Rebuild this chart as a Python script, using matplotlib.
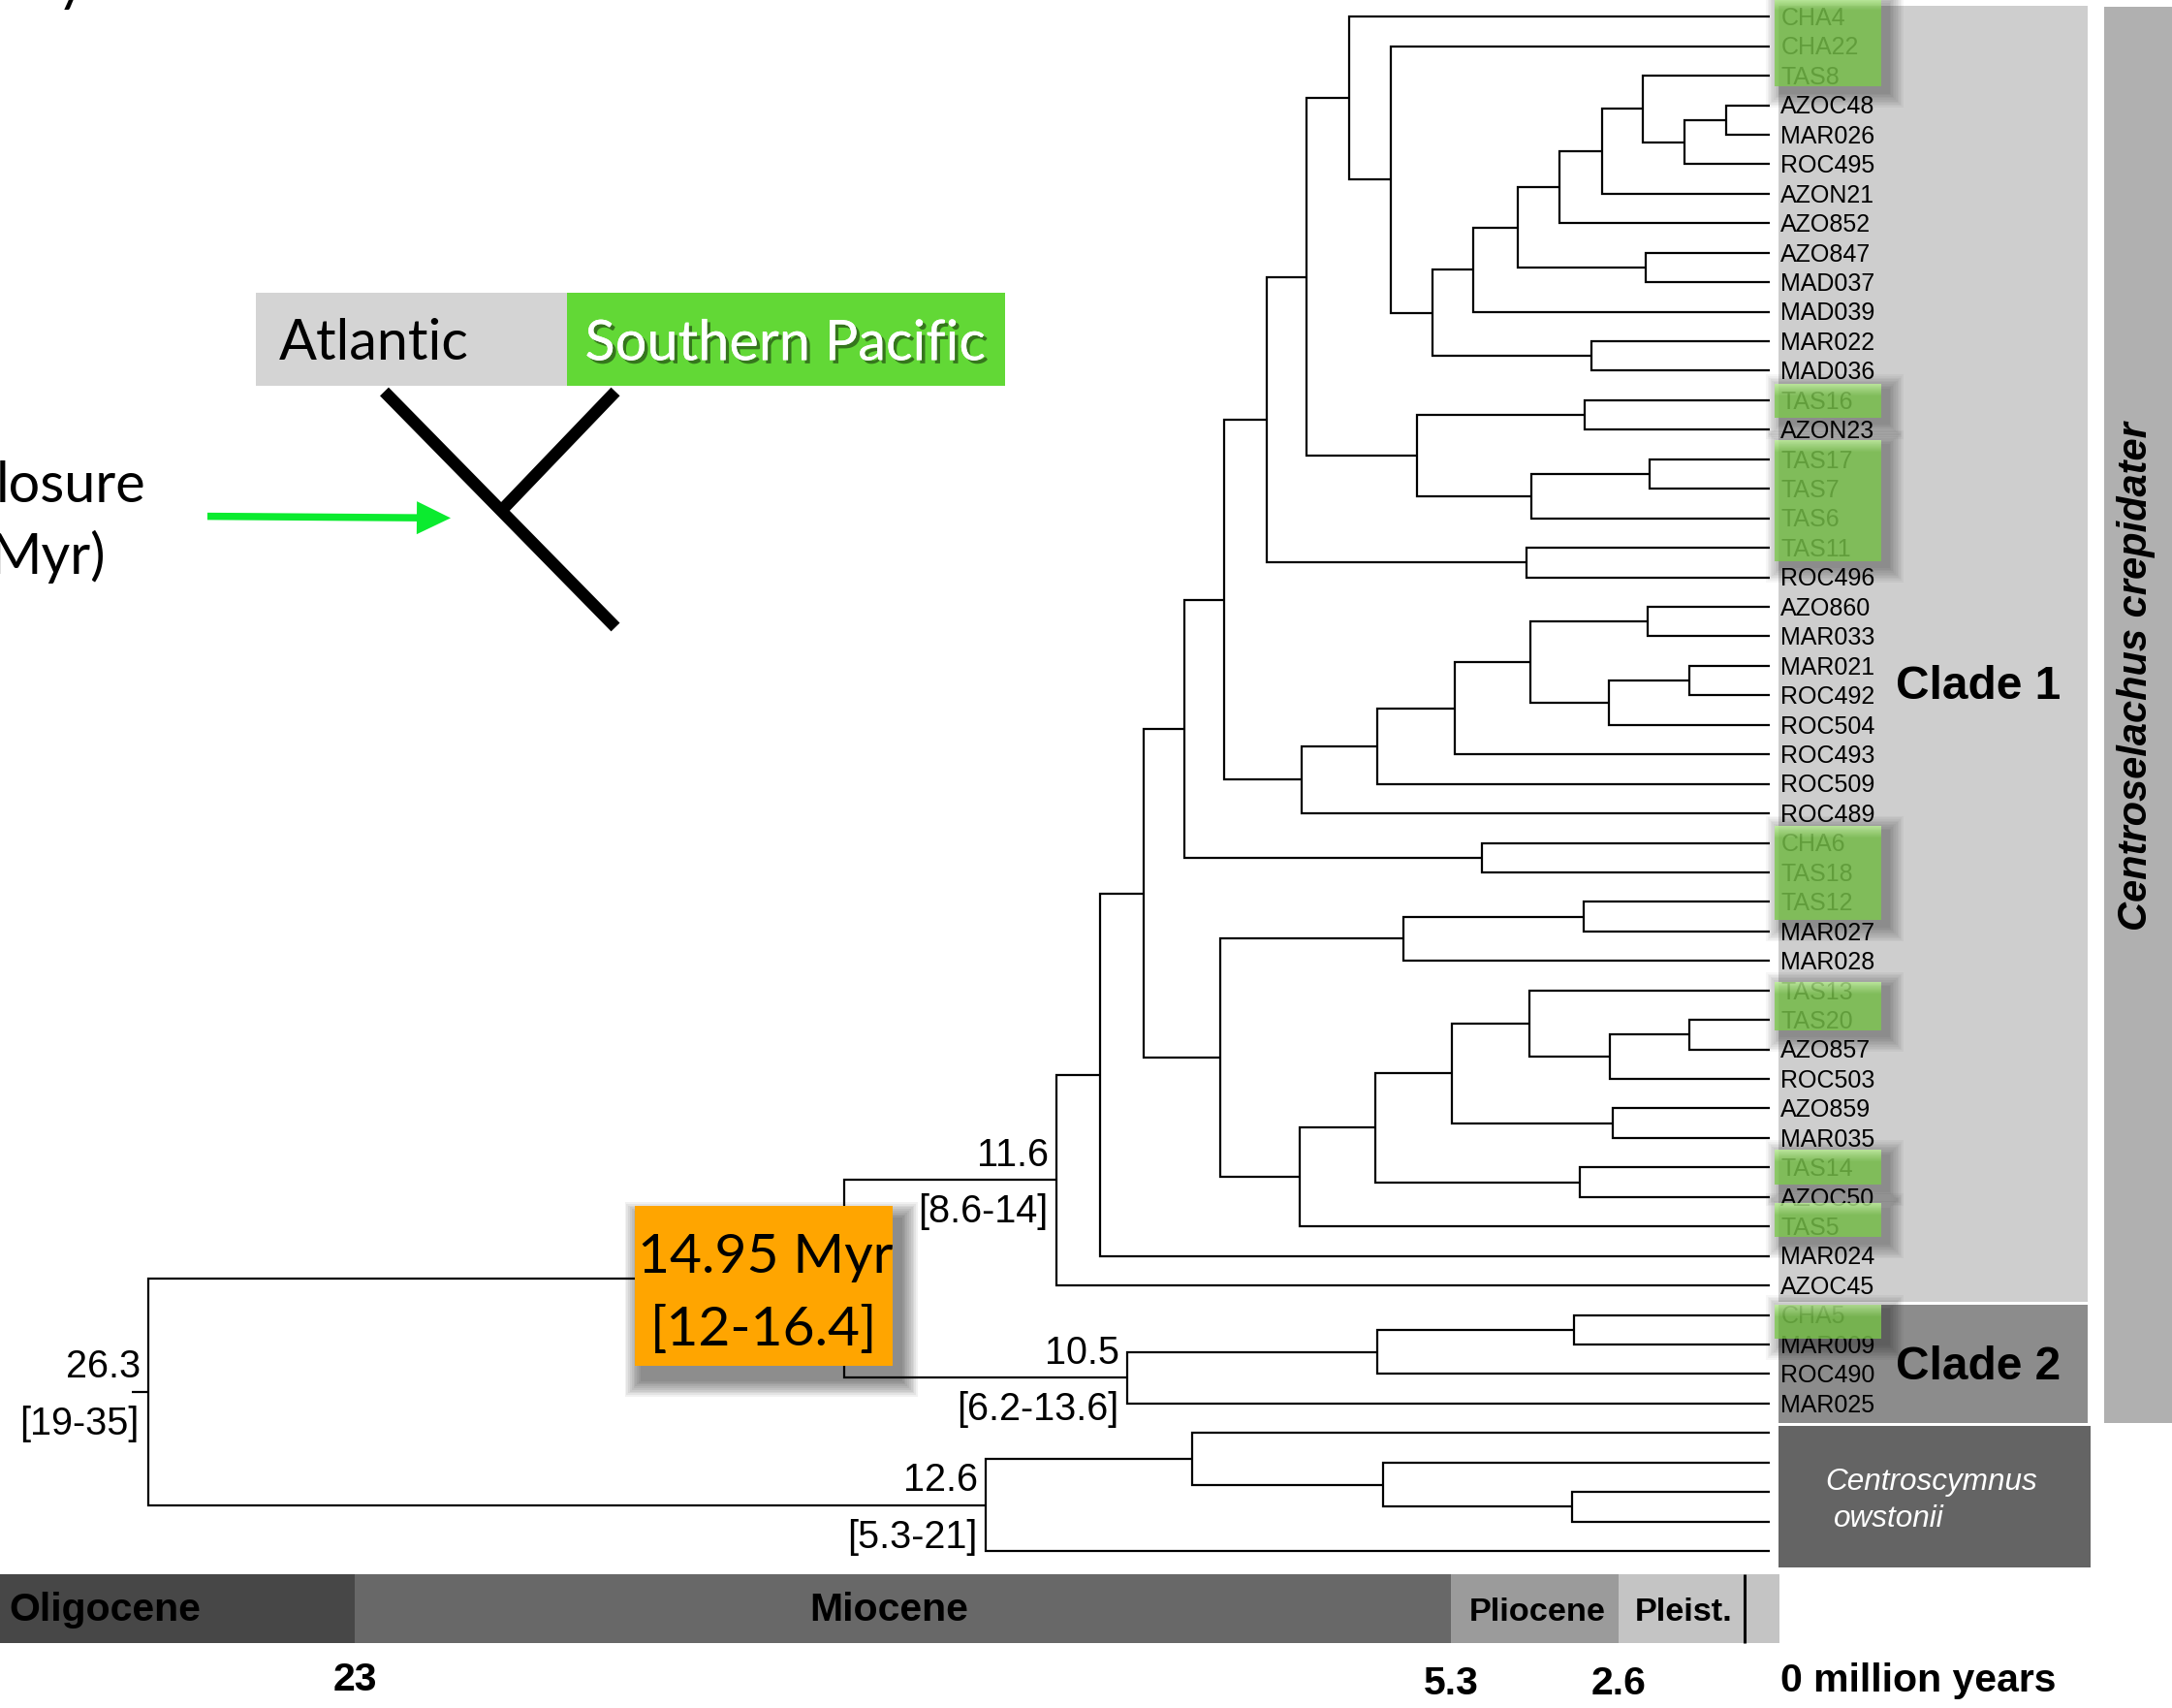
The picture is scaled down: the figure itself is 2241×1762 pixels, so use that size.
import matplotlib
matplotlib.use("Agg")
import matplotlib.pyplot as plt
import matplotlib.transforms as mtrans
import matplotlib.patheffects as pe
from matplotlib.patches import Rectangle, FancyArrow
from matplotlib.collections import LineCollection
import numpy as np

# ------------------------------------------------------------------ data
# time-calibrated tree: (node age in Myr, child, child); tips are sample names
CLADE1_A = (6.95, "CHA4", (6.27, "CHA22", (5.61, (4.94, (4.23, (3.55, (2.87, (2.21, "TAS8",
            (1.54, (0.86, "AZOC48", "MAR026"), "ROC495")), "AZON21"), "AZO852"),
            (2.16, "AZO847", "MAD037")), "MAD039"), (3.04, "MAR022", "MAD036"))))
CLADE1_B = (5.86, (3.14, "TAS16", "AZON23"), (4.01, (2.09, "TAS17", "TAS7"), "TAS6"))
CLADE1_C = (7.71, (6.49, (5.24, (4.02, (2.13, "AZO860", "MAR033"),
            (2.76, (1.46, "MAR021", "ROC492"), "ROC504")), "ROC493"), "ROC509"), "ROC489")
CLADE1_D = (9.03, (6.07, (3.16, "TAS12", "MAR027"), "MAR028"),
            (7.74, (6.53, (5.29, (4.03, "TAS13", (2.74, (1.46, "TAS20", "AZO857"), "ROC503")),
                               (2.69, "AZO859", "MAR035")), (3.22, "TAS14", "AZOC50")), "TAS5"))
CLADE1 = (11.67, (10.97, (10.27, (9.61, (8.96, (8.28, (7.64, CLADE1_A, CLADE1_B),
          (4.08, "TAS11", "ROC496")), CLADE1_C), (4.81, "CHA6", "TAS18")), CLADE1_D),
          "MAR024"), "AZOC45")
CLADE2 = (10.53, (6.50, (3.32, "CHA5", "MAR009"), "ROC490"), "MAR025")
OWSTONII = (12.81, (9.48, "ow1", (6.40, "ow2", (3.35, "ow3", "ow4"))), "ow5")
TREE = (26.34, (15.10, CLADE1, CLADE2), OWSTONII)
TIP_AGE = 0.15
ROOT_STEM_AGE = 26.61

# node age -> (mean label, HPD label)
NODE_LABELS = {26.34: ("26.3", "[19-35]"), 11.67: ("11.6", "[8.6-14]"),
               10.53: ("10.5", "[6.2-13.6]"), 12.81: ("12.6", "[5.3-21]")}
CALIB_TEXT = ["14.95 Myr", "[12-16.4]"]

# Southern Pacific samples (highlighted); groups of consecutive highlighted tips
SP_GROUPS = [("CHA4", "TAS8"), ("TAS16", "TAS16"), ("TAS17", "TAS11"), ("CHA6", "TAS12"),
             ("TAS13", "TAS20"), ("TAS14", "TAS14"), ("TAS5", "TAS5"), ("CHA5", "CHA5")]
SP_PAD_TOP = [19, 16.5, 20.3, 17.8, 8.7, 18, 23.8, 10.6]
SP_PAD_BOT = [11, 17.6, 13.5, 18.9, 10.6, 18, 11.2, 24]

EPOCHS = ["Oligocene", "Miocene", "Pliocene", "Pleist."]
EPOCH_OLD = [28.8, 23.0, 5.3, 2.6]
EPOCH_YOUNG = [23.0, 5.3, 2.6, 0.0]
EPOCH_COLORS = ["#474747", "#686868", "#9b9b9b", "#c4c4c4"]
HOLOCENE_MARK = 0.56
TIME_TICKS = [23, 5.3, 2.6]
TIME_TICK_LABELS = ["23", "5.3", "2.6"]

# ------------------------------------------------------------------ layout
W, H, DPI = 2241, 1762, 100
X0, SX = 1836.0, 63.9          # pixel of age 0, pixels per Myr
Y0, DY = 17.2, 30.44           # pixel of first tip, pixels per tip

fig = plt.figure(figsize=(W / DPI, H / DPI), dpi=DPI)
fig.patch.set_facecolor("white")
ax = fig.add_axes([0, 0, 1, 1])
ax.set_xlim(X0 / SX, (X0 - W) / SX)
ax.set_ylim((H - Y0) / DY, -Y0 / DY)
ax.axis("off")

PX = mtrans.Affine2D().scale(1, -1).translate(0, H)      # top-left pixel coordinates
XPX = mtrans.blended_transform_factory(ax.transData, PX)  # x = age, y = pixel

ARIAL = "Liberation Sans"
GILL = "Lato"

# ------------------------------------------------------------------ tree
tips = []
def collect(n):
    if isinstance(n, str):
        tips.append(n)
    else:
        for c in n[1:]:
            collect(c)
collect(TREE)
tip_y = {n: i for i, n in enumerate(tips)}

segs = []
node_pos = {}
def layout(n):
    if isinstance(n, str):
        return tip_y[n], TIP_AGE
    age = n[0]
    ya, aa = layout(n[1])
    yb, ab = layout(n[2])
    segs.append([(aa, ya), (age, ya), (age, yb), (ab, yb)])
    y = (ya + yb) / 2
    node_pos[age] = y
    return y, age
root_y, root_age = layout(TREE)
segs.append([(ROOT_STEM_AGE, root_y), (root_age, root_y)])
lc = LineCollection(segs, colors="black", linewidths=1.6, zorder=2,
                    capstyle="butt", joinstyle="miter")
ax.add_collection(lc)

# ------------------------------------------------------------------ right-hand panels
def prect(x0, y0, x1, y1, color, z, alpha=1.0, tr=PX):
    ax.add_patch(Rectangle((x0, y0), x1 - x0, y1 - y0, transform=tr, facecolor=color,
                           edgecolor="none", lw=0, zorder=z, alpha=alpha))

def shadow(x0, y0, x1, y1, dx, dy, spread, alpha, z, n=10):
    for k in range(n):
        e = spread * (k + 1) / n
        prect(x0 + dx - e, y0 + dy - e, x1 + dx + e, y1 + dy + e, "black", z, alpha / n)

def ypx(name):
    return Y0 + tip_y[name] * DY

prect(1835, 6, 2154, ypx("AZOC45") + 17, "#cecece", 0)
prect(1835, ypx("CHA5") - 10.6, 2154, ypx("MAR025") + 19.8, "#8c8c8c", 0)
prect(1835, ypx("ow1") - 7.3, 2157, ypx("ow5") + 16.6, "#646464", 0)
prect(2171, 7, W, 1468.3, "#b0b0b0", 0)

ax.text(2204, 698, "Centroselachus crepidater", transform=PX, rotation=90, ha="center",
        va="center", fontsize=30, fontweight="bold", fontstyle="italic", family=ARIAL,
        color="black", zorder=6)
ax.text(1956, 720.7, "Clade 1", transform=PX, ha="left", va="baseline", fontsize=34.5,
        fontweight="bold", family=ARIAL, zorder=6)
ax.text(1956, 1423.3, "Clade 2", transform=PX, ha="left", va="baseline", fontsize=34.5,
        fontweight="bold", family=ARIAL, zorder=6)
ax.text(1883, 1536.7, "Centroscymnus", transform=PX, ha="left", va="baseline", fontsize=22.7,
        fontstyle="italic", family=ARIAL, color="white", zorder=6)
ax.text(1891.7, 1575, "owstonii", transform=PX, ha="left", va="baseline", fontsize=22.7,
        fontstyle="italic", family=ARIAL, color="white", zorder=6)

# tip labels
lab_tr = mtrans.offset_copy(ax.transData, fig=fig, x=11, y=-8.8, units="dots")
for n in tips:
    if n.startswith("ow"):
        continue
    ax.text(TIP_AGE, tip_y[n], n, transform=lab_tr, ha="left", va="baseline", fontsize=18,
            family=ARIAL, color="black", zorder=3)

# Southern Pacific highlight boxes (semi-transparent, over the labels)
BOX_C = np.array([125, 202, 77]) / 255
TOP_C = np.array([190, 246, 150]) / 255
for (a, b), pt, pb in zip(SP_GROUPS, SP_PAD_TOP, SP_PAD_BOT):
    y0 = ypx(a) - pt
    y1 = ypx(b) + pb
    shadow(1831, y0, 1941, y1, 7, 6, 16, 0.35, 2.5)
    g = 12
    prect(1831, y0 + g, 1941, y1, BOX_C, 4, 0.78)
    for k in range(g):
        t = k / g
        prect(1831, y0 + k, 1941, y0 + k + 1, TOP_C * (1 - t) + BOX_C * t, 4, 0.78)

# ------------------------------------------------------------------ node labels
up_tr = mtrans.offset_copy(ax.transData, fig=fig, x=-8, y=14.5, units="dots")
lo_tr = mtrans.offset_copy(ax.transData, fig=fig, x=-9, y=-44, units="dots")
for age, (top, bot) in NODE_LABELS.items():
    y = node_pos[age]
    ax.text(age, y, top, transform=up_tr, ha="right", va="baseline", fontsize=28.5,
            family=ARIAL, zorder=5)
    ax.text(age, y, bot, transform=lo_tr, ha="right", va="baseline", fontsize=28.5,
            family=ARIAL, zorder=5)

# calibration box
shadow(654.5, 1244, 921, 1409, 8, 14, 18, 0.55, 6)
prect(654.5, 1244, 921, 1409, "#ffa500", 7)
ax.text(790, 1313.3, CALIB_TEXT[0], transform=PX, ha="center", va="baseline", fontsize=41,
        family=GILL, color="black", zorder=8)
ax.text(788, 1388.3, CALIB_TEXT[1], transform=PX, ha="center", va="baseline", fontsize=41,
        family=GILL, color="black", zorder=8)

# ------------------------------------------------------------------ epoch bar
for name, o, yng, c in zip(EPOCHS, EPOCH_OLD, EPOCH_YOUNG, EPOCH_COLORS):
    ax.add_patch(Rectangle((o, 1624), yng - o, 71, transform=XPX, facecolor=c,
                           edgecolor="none", lw=0, zorder=0))
ax.plot([HOLOCENE_MARK, HOLOCENE_MARK], [1624, 1695], transform=XPX, color="black",
        lw=2.2, zorder=1, solid_capstyle="butt")
ax.text(9.6, 1672, EPOCHS[0], transform=PX, ha="left", va="baseline", fontsize=29.5,
        fontweight="bold", family=ARIAL, zorder=5)
ax.text(917, 1672, EPOCHS[1], transform=PX, ha="center", va="baseline", fontsize=29.5,
        fontweight="bold", family=ARIAL, zorder=5)
ax.text(1586, 1671.7, EPOCHS[2], transform=PX, ha="center", va="baseline", fontsize=24.7,
        fontweight="bold", family=ARIAL, zorder=5)
ax.text(1687, 1671.7, EPOCHS[3], transform=PX, ha="left", va="baseline", fontsize=24.7,
        fontweight="bold", family=ARIAL, zorder=5)

tick_base = [1743.7, 1748.3, 1748.3]
for t, lab, yb in zip(TIME_TICKS, TIME_TICK_LABELS, tick_base):
    ax.text(t, yb, lab, transform=XPX, ha="center", va="baseline", fontsize=29.5,
            fontweight="bold", family=ARIAL, zorder=5)
ax.text(-0.01, 1745, "0 million years", transform=XPX, ha="left", va="baseline",
        fontsize=29.5, fontweight="bold", family=ARIAL, zorder=5)

# ------------------------------------------------------------------ left inset
prect(264, 302, 585, 398, "#d4d4d4", 1)
prect(585, 302, 1036.5, 398, "#62d836", 1)
ax.text(287.7, 371.4, "Atlantic", transform=PX, ha="left", va="baseline", fontsize=41.5,
        family=GILL, color="black", zorder=3)
ax.text(603.5, 371.4, "Southern Pacific", transform=PX, ha="left", va="baseline", fontsize=41.5,
        family=GILL, color="white", zorder=3,
        path_effects=[pe.withSimplePatchShadow(offset=(2.5, -2.5), shadow_rgbFace="black",
                                               alpha=0.45), pe.Normal()])
ax.plot([396.5, 635], [404, 647], transform=PX, color="black", lw=9,
        solid_capstyle="butt", zorder=3)
ax.plot([635, 519], [404, 525], transform=PX, color="black", lw=9,
        solid_capstyle="butt", zorder=3)
ax.add_patch(FancyArrow(214, 532.6, 251, 1.8, width=7.5, head_width=34, head_length=35,
                        length_includes_head=True, transform=PX, color="#0beb2f", lw=0,
                        zorder=3))
ax.text(-4, 518, "losure", transform=PX, ha="left", va="baseline", fontsize=41.5,
        family=GILL, color="black", zorder=3)
ax.text(-10, 591.5, "Myr)", transform=PX, ha="left", va="baseline", fontsize=41.5,
        family=GILL, color="black", zorder=3)
ax.text(58, 0.5, "y", transform=PX, ha="left", va="baseline", fontsize=41.5,
        family=GILL, color="black", zorder=3)

fig.savefig("out.png", dpi=DPI, facecolor="white")
